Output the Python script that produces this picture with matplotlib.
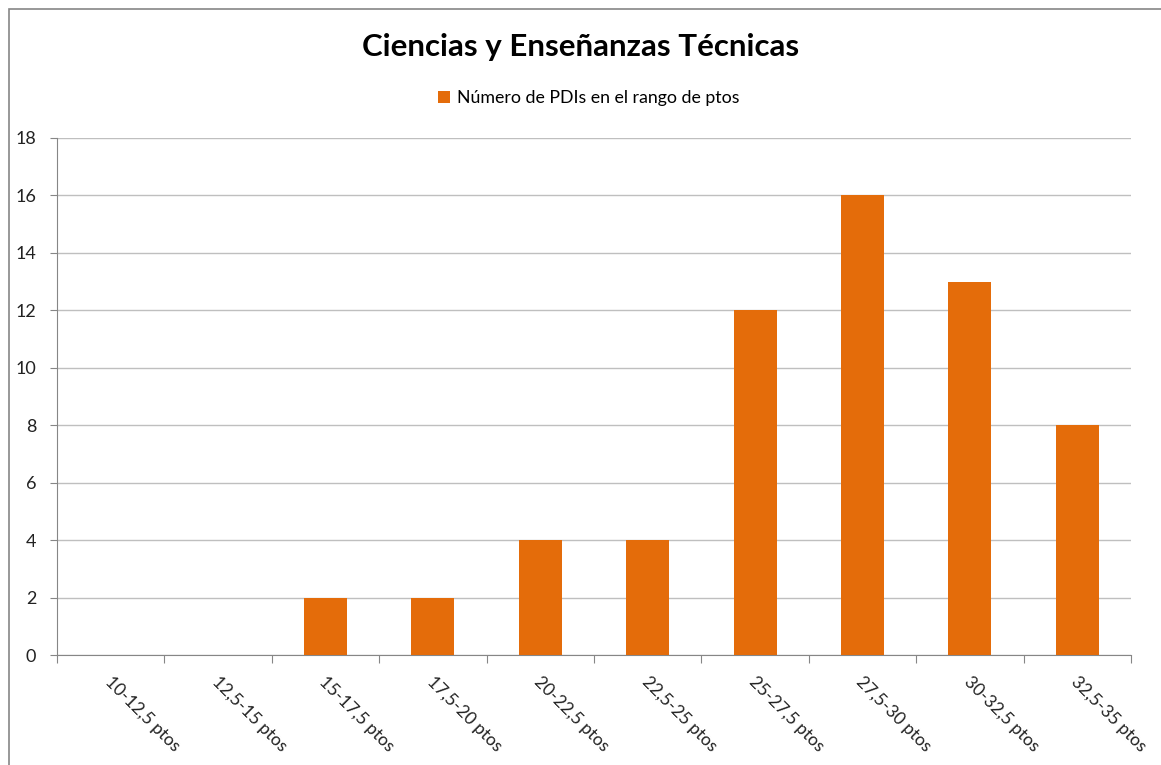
import matplotlib

matplotlib.use("Agg")
import matplotlib.pyplot as plt
import numpy as np
from matplotlib.patches import Rectangle

plt.rcParams["font.family"] = ["Lato", "DejaVu Sans"]

categories = [
    "10-12,5 ptos", "12,5-15 ptos", "15-17,5 ptos", "17,5-20 ptos", "20-22,5 ptos",
    "22,5-25 ptos", "25-27,5 ptos", "27,5-30 ptos", "30-32,5 ptos", "32,5-35 ptos",
]
counts = [0, 0, 2, 2, 4, 4, 12, 16, 13, 8]
y_ticks = [0, 2, 4, 6, 8, 10, 12, 14, 16, 18]

bar_color = "#E46C0A"
grid_color = "#BFBFBF"
axis_color = "#868686"

fig = plt.figure(figsize=(11.61, 7.65), dpi=100)
ax = fig.add_axes([57 / 1161, 1 - 655 / 765, (1131 - 57) / 1161, (655 - 138) / 765])

# outer chart border (cropped at right and bottom in the original)
fig.patches.append(Rectangle((9 / 1161, -0.1), 1.2, 1 - 9 / 765 + 0.1, transform=fig.transFigure,
                             fill=False, edgecolor="#868686", linewidth=1.2))

x = np.arange(len(categories))
ax.bar(x, counts, width=0.4, color=bar_color, zorder=3, label="Número de PDIs en el rango de ptos")

ax.set_xlim(-0.5, len(categories) - 0.5)
ax.set_ylim(0, 18)
ax.set_yticks(y_ticks)
ax.set_yticklabels([str(v) for v in y_ticks], fontsize=13, color="#222222")
ax.yaxis.grid(True, color=grid_color, linewidth=1, zorder=0)

ax.set_xticks(np.arange(len(categories) + 1) - 0.5)
ax.set_xticklabels([])
ax.tick_params(axis="x", length=6, color=axis_color, direction="out")
ax.tick_params(axis="y", length=5, color=axis_color, direction="out", pad=10)
for i, lab in enumerate(categories):
    ax.text(i + 0.02, -0.65, lab, rotation=-45, ha="left", va="top", rotation_mode="anchor",
            fontsize=12.5, color="#222222")

for side in ["top", "right"]:
    ax.spines[side].set_visible(False)
ax.spines["left"].set_color(axis_color)
ax.spines["bottom"].set_color(axis_color)

fig.text(0.5, 1 - 47 / 765, "Ciencias y Enseñanzas Técnicas", ha="center", va="center",
         fontsize=22.5, fontweight="bold")
fig.legend(loc="center", bbox_to_anchor=(0.507, 1 - 98 / 765), frameon=False, fontsize=12.8,
           handlelength=0.7, handleheight=0.7, handletextpad=0.4)

fig.savefig("out.png", dpi=100)
